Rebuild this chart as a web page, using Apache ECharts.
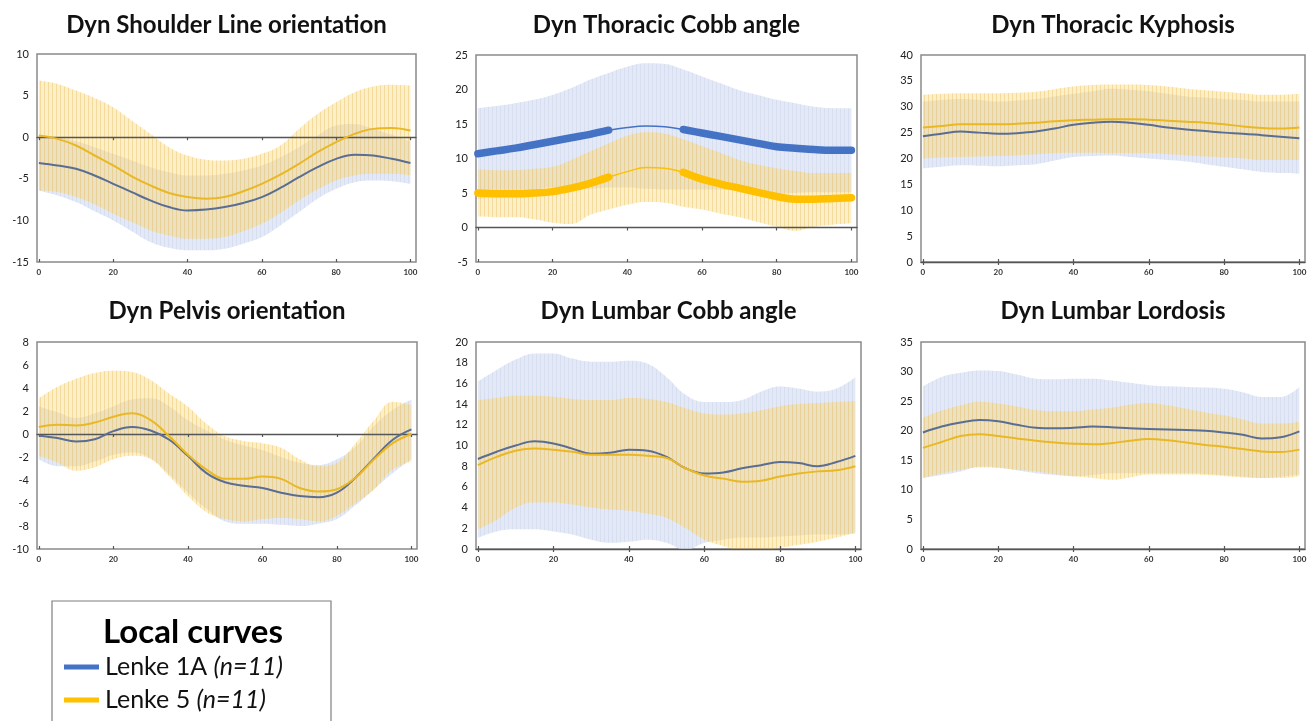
<!DOCTYPE html>
<html>
<head>
<meta charset="utf-8">
<script src="https://cdn.jsdelivr.net/npm/echarts@6/dist/echarts.min.js"></script>
<style>
  html, body { margin: 0; padding: 0; background: #fff; }
  #chart { width: 1310px; height: 721px; }
</style>
</head>
<body>
<div id="chart"></div>
<script>
// ---------- DATA (gait cycle %, degrees) ----------
const xs = [0,5,10,15,20,25,30,35,40,45,50,55,60,65,70,75,80,85,90,95,100];
const xTickLabels = [0,20,40,60,80,100];

// Dyn Shoulder Line orientation
const shoulderBlueMean   = [-3.1,-3.4,-3.8,-4.6,-5.6,-6.6,-7.6,-8.4,-8.8,-8.7,-8.4,-7.9,-7.2,-6.1,-4.8,-3.6,-2.6,-2.1,-2.2,-2.6,-3.1];
const shoulderBlueUpper  = [0.2,0.0,-0.5,-1.2,-2.0,-2.8,-3.6,-4.2,-4.6,-4.6,-4.4,-4.0,-3.4,-2.4,-1.2,0.2,1.4,1.6,1.0,0.3,-0.5];
const shoulderBlueLower  = [-6.4,-7.0,-7.8,-8.9,-10.0,-11.3,-12.6,-13.3,-13.6,-13.6,-13.4,-12.8,-12.0,-10.6,-9.0,-7.4,-6.2,-5.4,-5.2,-5.3,-5.6];
const shoulderYellowMean = [0.2,-0.2,-1.0,-2.2,-3.4,-4.7,-5.8,-6.7,-7.2,-7.4,-7.2,-6.5,-5.6,-4.5,-3.2,-1.8,-0.6,0.4,1.0,1.1,0.8];
const shoulderYellowUpper= [6.8,6.4,5.6,4.7,3.6,2.0,0.4,-1.2,-2.2,-2.7,-2.8,-2.6,-2.0,-1.0,1.0,2.8,4.2,5.4,6.1,6.3,6.2];
const shoulderYellowLower= [-6.4,-6.6,-7.2,-8.1,-9.2,-10.2,-11.2,-11.8,-12.2,-12.2,-12.0,-11.3,-10.4,-9.1,-7.6,-6.3,-5.2,-4.6,-4.4,-4.4,-4.6];

// Dyn Thoracic Cobb angle
const thCobbBlueMean   = [10.7,11.1,11.5,12.0,12.5,13.0,13.5,14.1,14.5,14.7,14.6,14.2,13.7,13.2,12.7,12.2,11.7,11.5,11.3,11.2,11.2];
const thCobbBlueUpper  = [17.3,17.6,18.0,18.5,19.2,20.2,21.4,22.4,23.3,23.8,23.7,22.9,21.9,20.9,19.9,19.2,18.5,18.0,17.5,17.3,17.3];
const thCobbBlueLower  = [4.1,4.6,5.0,5.5,5.8,5.8,5.6,5.8,5.8,5.6,5.5,5.5,5.5,5.5,5.5,5.2,4.9,5.0,5.1,5.1,5.1];
const thCobbYellowMean = [5.0,4.9,4.9,5.0,5.2,5.7,6.4,7.3,8.1,8.7,8.6,8.0,7.0,6.3,5.7,5.1,4.5,4.1,4.1,4.2,4.3];
const thCobbYellowUpper= [8.4,8.3,8.3,8.5,8.8,9.8,11.0,12.2,13.3,13.8,13.6,12.8,11.8,10.8,9.8,9.1,8.6,8.2,7.9,7.9,7.9];
const thCobbYellowLower= [1.6,1.5,1.5,1.2,0.7,0.5,1.8,2.6,3.3,3.7,3.6,3.0,2.6,2.0,1.5,0.8,0.1,-0.5,0.1,0.4,0.6];
// phases drawn with a thick line (significant portions)
const thCobbThick = [1,1,1,1,1,1,1,1,0,0,0,1,1,1,1,1,1,1,1,1,1];

// Dyn Thoracic Kyphosis
const kyphBlueMean   = [24.3,24.8,25.2,25.0,24.8,24.9,25.2,25.8,26.5,26.9,27.1,26.9,26.5,26.0,25.6,25.3,25.0,24.8,24.5,24.2,23.9];
const kyphBlueUpper  = [31.0,31.3,31.5,31.3,31.0,31.2,31.5,32.0,32.5,33.0,33.5,33.3,33.0,32.5,32.0,31.8,31.5,31.3,31.0,31.0,31.0];
const kyphBlueLower  = [18.1,18.4,18.7,18.6,18.5,18.7,18.9,19.6,20.3,20.5,20.6,20.3,20.0,19.7,19.4,18.9,18.4,17.9,17.4,17.2,17.1];
const kyphYellowMean = [26.0,26.3,26.6,26.6,26.6,26.7,26.9,27.2,27.4,27.5,27.6,27.6,27.5,27.3,27.1,26.9,26.6,26.2,25.9,25.8,26.0];
const kyphYellowUpper= [32.3,32.5,32.6,32.6,32.6,32.7,32.9,33.4,33.9,34.2,34.3,34.3,34.2,33.9,33.5,33.2,32.9,32.6,32.3,32.3,32.5];
const kyphYellowLower= [20.0,20.2,20.3,20.4,20.5,20.6,20.8,21.0,21.1,21.1,21.0,21.0,21.0,20.8,20.6,20.4,20.2,20.0,19.7,19.7,19.7];

// Dyn Pelvis orientation
const pelvisBlueMean   = [-0.15,-0.35,-0.65,-0.45,0.25,0.6,0.3,-0.5,-1.9,-3.4,-4.2,-4.5,-4.7,-5.1,-5.4,-5.5,-5.1,-3.8,-2.1,-0.5,0.4];
const pelvisBlueUpper  = [2.4,1.9,1.4,1.8,2.4,3.0,3.1,2.4,1.2,0.3,-0.5,-1.0,-1.4,-2.0,-2.5,-2.7,-2.2,-1.1,0.7,2.1,3.0];
const pelvisBlueLower  = [-2.2,-2.8,-2.8,-2.4,-1.8,-1.6,-2.1,-3.5,-5.1,-6.5,-7.6,-7.8,-7.8,-7.9,-8.0,-7.8,-7.4,-6.2,-4.8,-3.4,-2.2];
const pelvisYellowMean = [0.6,0.8,0.75,1.0,1.5,1.8,1.2,-0.2,-1.8,-3.1,-3.9,-3.9,-3.7,-3.9,-4.7,-5.0,-4.8,-3.8,-2.2,-0.8,0.0];
const pelvisYellowUpper= [3.1,4.1,4.8,5.3,5.5,5.4,4.7,3.5,2.4,0.9,-0.2,-0.6,-0.8,-1.2,-2.2,-2.8,-2.5,-0.8,1.2,2.8,2.5];
const pelvisYellowLower= [-1.9,-2.5,-3.2,-2.9,-2.2,-1.9,-2.2,-3.7,-5.4,-6.8,-7.4,-7.6,-7.4,-7.3,-7.4,-7.6,-7.1,-6.0,-4.8,-3.1,-2.4];

// Dyn Lumbar Cobb angle
const lCobbBlueMean   = [8.7,9.4,10.0,10.4,10.2,9.7,9.2,9.3,9.6,9.5,8.9,7.8,7.3,7.4,7.8,8.1,8.4,8.3,8.0,8.4,9.0];
const lCobbBlueUpper  = [16.2,17.3,18.3,18.9,18.9,18.4,18.1,18.1,18.2,17.9,16.6,14.9,14.2,14.2,14.4,15.2,15.7,15.5,15.2,15.5,16.6];
const lCobbBlueLower  = [1.1,1.7,1.9,1.9,1.7,1.4,0.9,0.6,0.7,0.9,0.6,-0.1,0.6,0.9,1.1,1.1,1.2,1.3,1.4,1.4,1.5];
const lCobbYellowMean = [8.1,8.9,9.5,9.7,9.6,9.4,9.1,9.1,9.1,9.0,8.8,7.8,7.1,6.8,6.5,6.6,7.0,7.3,7.5,7.6,8.0];
const lCobbYellowUpper= [14.4,14.6,14.8,14.8,14.7,14.5,14.4,14.4,14.6,14.5,14.2,13.6,13.1,13.0,13.1,13.4,13.8,14.0,14.1,14.2,14.3];
const lCobbYellowLower= [1.9,2.8,4.0,4.5,4.5,4.3,4.0,3.8,3.7,3.4,3.0,2.0,0.9,0.3,-0.1,-0.1,0.1,0.4,0.7,1.1,1.6];

// Dyn Lumbar Lordosis
const lordBlueMean   = [19.7,20.7,21.4,21.8,21.6,21.0,20.5,20.4,20.5,20.7,20.6,20.4,20.3,20.2,20.1,20.0,19.7,19.3,18.7,18.9,19.9];
const lordBlueUpper  = [27.5,29.1,29.8,30.2,30.1,29.5,28.8,28.7,28.8,28.8,28.5,28.1,27.7,27.5,27.4,27.3,27.1,26.5,25.7,25.7,27.4];
const lordBlueLower  = [12.0,12.5,13.1,13.9,13.8,13.3,12.8,12.5,12.3,12.5,12.8,12.8,12.8,12.8,12.8,12.7,12.5,12.2,12.0,12.2,12.6];
const lordYellowMean = [17.1,18.1,19.1,19.4,19.1,18.7,18.3,18.0,17.8,17.7,17.9,18.3,18.6,18.4,18.0,17.6,17.3,16.9,16.5,16.4,16.8];
const lordYellowUpper= [22.2,23.4,24.3,24.9,24.6,24.1,23.5,23.3,23.3,23.6,23.9,24.4,24.7,24.3,23.7,23.1,22.6,21.9,21.2,21.2,21.5];
const lordYellowLower= [12.0,12.8,13.4,13.8,13.7,13.4,13.1,12.7,12.3,12.0,11.7,12.1,12.6,12.6,12.6,12.5,12.3,12.1,12.0,12.0,12.3];

// Titles and y-axis ranges
const panelTitles = ['Dyn Shoulder Line orientation','Dyn Thoracic Cobb angle','Dyn Thoracic Kyphosis',
                     'Dyn Pelvis orientation','Dyn Lumbar Cobb angle','Dyn Lumbar Lordosis'];
const yMins = [-15,-5,0,-10,0,0];
const yMaxs = [10,25,40,8,20,35];
const yIntervals = [5,5,5,2,2,5];

const legendTitle = 'Local curves';
const groupNames = ['Lenke 1A','Lenke 5'];
const groupN = ['(n=11)','(n=11)'];

// ---------- LAYOUT / STYLE ----------
const gridBoxes = [
  {left:37,  top:54,  width:379, height:208},
  {left:476, top:55,  width:381, height:207},
  {left:921, top:55,  width:384, height:207},
  {left:37,  top:342, width:380, height:207},
  {left:476, top:342, width:385, height:207},
  {left:921, top:342, width:384, height:207}
];
const titleY = [25,25,25,311,311,311];

const panelData = [
  [shoulderBlueMean,shoulderBlueUpper,shoulderBlueLower,shoulderYellowMean,shoulderYellowUpper,shoulderYellowLower],
  [thCobbBlueMean,thCobbBlueUpper,thCobbBlueLower,thCobbYellowMean,thCobbYellowUpper,thCobbYellowLower],
  [kyphBlueMean,kyphBlueUpper,kyphBlueLower,kyphYellowMean,kyphYellowUpper,kyphYellowLower],
  [pelvisBlueMean,pelvisBlueUpper,pelvisBlueLower,pelvisYellowMean,pelvisYellowUpper,pelvisYellowLower],
  [lCobbBlueMean,lCobbBlueUpper,lCobbBlueLower,lCobbYellowMean,lCobbYellowUpper,lCobbYellowLower],
  [lordBlueMean,lordBlueUpper,lordBlueLower,lordYellowMean,lordYellowUpper,lordYellowLower]
];

function stripe(base, line) {
  const c = document.createElement('canvas');
  c.width = 4; c.height = 4;
  const g = c.getContext('2d');
  g.fillStyle = base; g.fillRect(0,0,4,4);
  g.fillStyle = line; g.fillRect(0,0,1,4);
  return c;
}
const bluePattern = {image: stripe('#e3e9f6', '#d6def0'), repeat: 'repeat'};
const yellowPattern = {image: stripe('rgba(249,214,118,0.40)', 'rgba(236,196,102,0.46)'), repeat: 'repeat'};

const FONT = 'Lato, "Open Sans", sans-serif';
const X_MIN = -0.5, X_MAX = 101.5;

// value first, x second, so that stacking acts on the y value
const pts = (arr) => xs.map((x,k) => [arr[k], x]);
const ENC = {x:1, y:0};

const grids = [], xAxes = [], yAxes = [], series = [], graphics = [];

gridBoxes.forEach((b, i) => {
  grids.push(Object.assign({show:true, z:3, borderColor:'#8a8a8a', borderWidth:1.5, backgroundColor:'transparent'}, b));
  // labelled x axis at bottom
  xAxes.push({
    type:'value', gridIndex:i, min:X_MIN, max:X_MAX, position:'bottom',
    axisLine:{show:false, onZero:false}, axisTick:{show:false}, splitLine:{show:false},
    axisLabel:{customValues:xTickLabels, fontSize:8, color:'#333', margin:6, fontFamily:FONT, fontWeight:'bold'}
  });
  // zero line with outward ticks
  xAxes.push({
    type:'value', gridIndex:i, min:X_MIN, max:X_MAX, position:'bottom', z:4,
    axisLine:{show:true, onZero:true, lineStyle:{color:'#555', width:1.3}},
    axisTick:{show:true, customValues:xTickLabels, length:3, inside:false, lineStyle:{color:'#555', width:1.2}},
    axisLabel:{show:false}, splitLine:{show:false}
  });
  // zero line inward ticks
  xAxes.push({
    type:'value', gridIndex:i, min:X_MIN, max:X_MAX, position:'bottom', z:4,
    axisLine:{show:false, onZero:true},
    axisTick:{show:true, customValues:xTickLabels, length:3, inside:true, lineStyle:{color:'#555', width:1.2}},
    axisLabel:{show:false}, splitLine:{show:false}
  });
  yAxes.push({
    type:'value', gridIndex:i, min:yMins[i], max:yMaxs[i], interval:yIntervals[i],
    axisLine:{show:false, onZero:false}, axisTick:{show:false}, splitLine:{show:false},
    axisLabel:{fontSize:11, color:'#222', margin:8, fontFamily:FONT}
  });

  const [bm, bu, bl, ym, yu, yl] = panelData[i];
  const xi = i*3, yi = i;
  const band = (lower, upper, pattern, key) => {
    series.push({
      type:'line', xAxisIndex:xi, yAxisIndex:yi, stack:key, stackStrategy:'all', encode:ENC,
      data: pts(lower), smooth:0.4, symbol:'none', silent:true,
      lineStyle:{width:0, opacity:0}
    });
    series.push({
      type:'line', xAxisIndex:xi, yAxisIndex:yi, stack:key, stackStrategy:'all', encode:ENC,
      data: xs.map((x,k)=>[+(upper[k]-lower[k]).toFixed(3), x]), smooth:0.4, symbol:'none', silent:true,
      lineStyle:{width:0, opacity:0}, areaStyle:{color:pattern, opacity:1}
    });
  };
  band(bl, bu, bluePattern, 'blueBand'+i);
  band(yl, yu, yellowPattern, 'yellowBand'+i);

  const isCobb = (i === 1);
  const blueColor = isCobb ? '#4472c4' : '#5a6d93';
  const yellowColor = isCobb ? '#ffc000' : '#e9b824';
  const lw = isCobb ? 1.5 : 2;
  series.push({
    name:groupNames[0], type:'line', xAxisIndex:xi, yAxisIndex:yi, encode:ENC, z:5,
    data: pts(bm), smooth:0.4, symbol:'none',
    lineStyle:{color:blueColor, width:lw}
  });
  series.push({
    name:groupNames[1], type:'line', xAxisIndex:xi, yAxisIndex:yi, encode:ENC, z:5,
    data: pts(ym), smooth:0.4, symbol:'none',
    lineStyle:{color:yellowColor, width:lw}
  });
  if (isCobb) {
    series.push({
      type:'line', xAxisIndex:xi, yAxisIndex:yi, encode:ENC, z:5,
      data: xs.map((x,k)=>[thCobbThick[k] ? bm[k] : null, x]), smooth:0.4, symbol:'none',
      lineStyle:{color:'#4472c4', width:7.5, cap:'round', join:'round'}
    });
    series.push({
      type:'line', xAxisIndex:xi, yAxisIndex:yi, encode:ENC, z:5,
      data: xs.map((x,k)=>[thCobbThick[k] ? ym[k] : null, x]), smooth:0.4, symbol:'none',
      lineStyle:{color:'#ffc000', width:7.5, cap:'round', join:'round'}
    });
  }

  graphics.push({
    type:'text', x: b.left + b.width/2, y: titleY[i],
    style:{text:panelTitles[i], font:'bold 24px ' + FONT, fill:'#111', align:'center', verticalAlign:'middle'}
  });
});

// Legend box (bottom-left)
graphics.push({type:'rect', shape:{x:52, y:601, width:279, height:140}, style:{fill:'#fff', stroke:'#7f7f7f', lineWidth:1.2}, z:0});
graphics.push({type:'text', x:193, y:632, style:{text:legendTitle, font:'bold 33px ' + FONT, fill:'#000', align:'center', verticalAlign:'middle'}});
const legendColors = ['#4472c4', '#ffc000'];
groupNames.forEach((n, k) => {
  const cy = 667 + k*33;
  graphics.push({type:'rect', shape:{x:64, y:cy-2.5, width:35, height:5}, style:{fill:legendColors[k]}});
  graphics.push({type:'text', x:105, y:cy,
    style:{text:'{a|' + n + ' }{b|' + groupN[k] + '}', verticalAlign:'middle', align:'left',
      rich:{a:{fontSize:25, fontFamily:FONT, fill:'#111'}, b:{fontSize:25, fontFamily:FONT, fontStyle:'italic', fill:'#111'}}}});
});

const chart = echarts.init(document.getElementById('chart'), null, {renderer:'canvas'});
chart.setOption({
  animation:false,
  backgroundColor:'#fff',
  grid:grids, xAxis:xAxes, yAxis:yAxes, series:series, graphic:graphics
});
</script>
</body>
</html>
